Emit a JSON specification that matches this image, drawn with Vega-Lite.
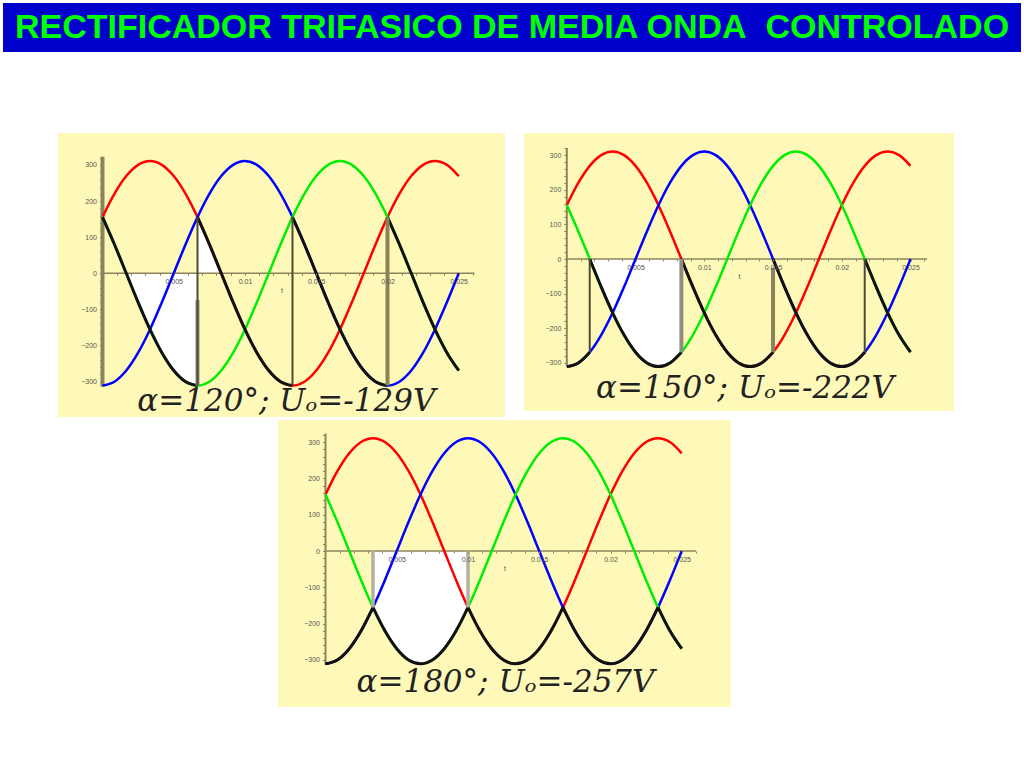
{
"$schema": "https://vega.github.io/schema/vega-lite/v6.json",
"background": "#ffffff",
"padding": {"left": 3, "top": 3, "right": 0, "bottom": 0},
"bounds": "flush",
"spacing": 81,
"config": {"axis": {"labelOverlap": false, "labelFlush": false, "labelBound": false, "grid": false, "domain": false, "tickColor": "#8c845c", "labelFont": "Liberation Sans", "labelFontSize": 7, "labelColor": "#555555", "titleFont": "Liberation Sans", "titleFontSize": 7, "titleFontWeight": "normal", "titleColor": "#555555", "zindex": 1}},
"datasets": {
"phases": [
{"t":0,"ph":"R","v":155.5},{"t":0.000833,"ph":"R","v":219.9},{"t":0.001667,"ph":"R","v":269.3},{"t":0.0025,"ph":"R","v":300.4},{"t":0.003333,"ph":"R","v":311},{"t":0.004167,"ph":"R","v":300.4},{"t":0.005,"ph":"R","v":269.3},{"t":0.005833,"ph":"R","v":219.9},{"t":0.006667,"ph":"R","v":155.5},{"t":0.0075,"ph":"R","v":80.5},{"t":0.008333,"ph":"R","v":0},{"t":0.009167,"ph":"R","v":-80.5},{"t":0.01,"ph":"R","v":-155.5},{"t":0.010833,"ph":"R","v":-219.9},{"t":0.011667,"ph":"R","v":-269.3},{"t":0.0125,"ph":"R","v":-300.4},{"t":0.013333,"ph":"R","v":-311},{"t":0.014167,"ph":"R","v":-300.4},{"t":0.015,"ph":"R","v":-269.3},{"t":0.015833,"ph":"R","v":-219.9},{"t":0.016667,"ph":"R","v":-155.5},{"t":0.0175,"ph":"R","v":-80.5},{"t":0.018333,"ph":"R","v":0},{"t":0.019167,"ph":"R","v":80.5},{"t":0.02,"ph":"R","v":155.5},{"t":0.020833,"ph":"R","v":219.9},{"t":0.021667,"ph":"R","v":269.3},{"t":0.0225,"ph":"R","v":300.4},{"t":0.023333,"ph":"R","v":311},{"t":0.024167,"ph":"R","v":300.4},{"t":0.025,"ph":"R","v":269.3},
{"t":0,"ph":"S","v":-311},{"t":0.000833,"ph":"S","v":-300.4},{"t":0.001667,"ph":"S","v":-269.3},{"t":0.0025,"ph":"S","v":-219.9},{"t":0.003333,"ph":"S","v":-155.5},{"t":0.004167,"ph":"S","v":-80.5},{"t":0.005,"ph":"S","v":0},{"t":0.005833,"ph":"S","v":80.5},{"t":0.006667,"ph":"S","v":155.5},{"t":0.0075,"ph":"S","v":219.9},{"t":0.008333,"ph":"S","v":269.3},{"t":0.009167,"ph":"S","v":300.4},{"t":0.01,"ph":"S","v":311},{"t":0.010833,"ph":"S","v":300.4},{"t":0.011667,"ph":"S","v":269.3},{"t":0.0125,"ph":"S","v":219.9},{"t":0.013333,"ph":"S","v":155.5},{"t":0.014167,"ph":"S","v":80.5},{"t":0.015,"ph":"S","v":0},{"t":0.015833,"ph":"S","v":-80.5},{"t":0.016667,"ph":"S","v":-155.5},{"t":0.0175,"ph":"S","v":-219.9},{"t":0.018333,"ph":"S","v":-269.3},{"t":0.019167,"ph":"S","v":-300.4},{"t":0.02,"ph":"S","v":-311},{"t":0.020833,"ph":"S","v":-300.4},{"t":0.021667,"ph":"S","v":-269.3},{"t":0.0225,"ph":"S","v":-219.9},{"t":0.023333,"ph":"S","v":-155.5},{"t":0.024167,"ph":"S","v":-80.5},{"t":0.025,"ph":"S","v":0},
{"t":0,"ph":"T","v":155.5},{"t":0.000833,"ph":"T","v":80.5},{"t":0.001667,"ph":"T","v":0},{"t":0.0025,"ph":"T","v":-80.5},{"t":0.003333,"ph":"T","v":-155.5},{"t":0.004167,"ph":"T","v":-219.9},{"t":0.005,"ph":"T","v":-269.3},{"t":0.005833,"ph":"T","v":-300.4},{"t":0.006667,"ph":"T","v":-311},{"t":0.0075,"ph":"T","v":-300.4},{"t":0.008333,"ph":"T","v":-269.3},{"t":0.009167,"ph":"T","v":-219.9},{"t":0.01,"ph":"T","v":-155.5},{"t":0.010833,"ph":"T","v":-80.5},{"t":0.011667,"ph":"T","v":0},{"t":0.0125,"ph":"T","v":80.5},{"t":0.013333,"ph":"T","v":155.5},{"t":0.014167,"ph":"T","v":219.9},{"t":0.015,"ph":"T","v":269.3},{"t":0.015833,"ph":"T","v":300.4},{"t":0.016667,"ph":"T","v":311},{"t":0.0175,"ph":"T","v":300.4},{"t":0.018333,"ph":"T","v":269.3},{"t":0.019167,"ph":"T","v":219.9},{"t":0.02,"ph":"T","v":155.5},{"t":0.020833,"ph":"T","v":80.5},{"t":0.021667,"ph":"T","v":0},{"t":0.0225,"ph":"T","v":-80.5},{"t":0.023333,"ph":"T","v":-155.5},{"t":0.024167,"ph":"T","v":-219.9},{"t":0.025,"ph":"T","v":-269.3}
],
"out1": [
{"t":0,"seg":"a","v":155.5},{"t":0.000833,"seg":"a","v":80.5},{"t":0.001667,"seg":"a","v":0},{"t":0.0025,"seg":"a","v":-80.5},{"t":0.003333,"seg":"a","v":-155.5},{"t":0.004167,"seg":"a","v":-219.9},{"t":0.005,"seg":"a","v":-269.3},{"t":0.005833,"seg":"a","v":-300.4},{"t":0.006667,"seg":"a","v":-311},
{"t":0.006667,"seg":"b","v":155.5},{"t":0.0075,"seg":"b","v":80.5},{"t":0.008333,"seg":"b","v":0},{"t":0.009167,"seg":"b","v":-80.5},{"t":0.01,"seg":"b","v":-155.5},{"t":0.010833,"seg":"b","v":-219.9},{"t":0.011667,"seg":"b","v":-269.3},{"t":0.0125,"seg":"b","v":-300.4},{"t":0.013333,"seg":"b","v":-311},
{"t":0.013333,"seg":"c","v":155.5},{"t":0.014167,"seg":"c","v":80.5},{"t":0.015,"seg":"c","v":0},{"t":0.015833,"seg":"c","v":-80.5},{"t":0.016667,"seg":"c","v":-155.5},{"t":0.0175,"seg":"c","v":-219.9},{"t":0.018333,"seg":"c","v":-269.3},{"t":0.019167,"seg":"c","v":-300.4},{"t":0.02,"seg":"c","v":-311},
{"t":0.02,"seg":"d","v":155.5},{"t":0.020833,"seg":"d","v":80.5},{"t":0.021667,"seg":"d","v":0},{"t":0.0225,"seg":"d","v":-80.5},{"t":0.023333,"seg":"d","v":-155.5},{"t":0.024167,"seg":"d","v":-219.9},{"t":0.025,"seg":"d","v":-269.3}
],
"out2": [
{"t":0,"seg":"a","v":-311},{"t":0.000833,"seg":"a","v":-300.4},{"t":0.001667,"seg":"a","v":-269.3},
{"t":0.001667,"seg":"b","v":0},{"t":0.0025,"seg":"b","v":-80.5},{"t":0.003333,"seg":"b","v":-155.5},{"t":0.004167,"seg":"b","v":-219.9},{"t":0.005,"seg":"b","v":-269.3},{"t":0.005833,"seg":"b","v":-300.4},{"t":0.006667,"seg":"b","v":-311},{"t":0.0075,"seg":"b","v":-300.4},{"t":0.008333,"seg":"b","v":-269.3},
{"t":0.008333,"seg":"c","v":0},{"t":0.009167,"seg":"c","v":-80.5},{"t":0.01,"seg":"c","v":-155.5},{"t":0.010833,"seg":"c","v":-219.9},{"t":0.011667,"seg":"c","v":-269.3},{"t":0.0125,"seg":"c","v":-300.4},{"t":0.013333,"seg":"c","v":-311},{"t":0.014167,"seg":"c","v":-300.4},{"t":0.015,"seg":"c","v":-269.3},
{"t":0.015,"seg":"d","v":0},{"t":0.015833,"seg":"d","v":-80.5},{"t":0.016667,"seg":"d","v":-155.5},{"t":0.0175,"seg":"d","v":-219.9},{"t":0.018333,"seg":"d","v":-269.3},{"t":0.019167,"seg":"d","v":-300.4},{"t":0.02,"seg":"d","v":-311},{"t":0.020833,"seg":"d","v":-300.4},{"t":0.021667,"seg":"d","v":-269.3},
{"t":0.021667,"seg":"e","v":0},{"t":0.0225,"seg":"e","v":-80.5},{"t":0.023333,"seg":"e","v":-155.5},{"t":0.024167,"seg":"e","v":-219.9},{"t":0.025,"seg":"e","v":-269.3}
],
"out3": [
{"t":0,"seg":"a","v":-311},{"t":0.000833,"seg":"a","v":-300.4},{"t":0.001667,"seg":"a","v":-269.3},{"t":0.0025,"seg":"a","v":-219.9},{"t":0.003333,"seg":"a","v":-155.5},
{"t":0.003333,"seg":"b","v":-155.5},{"t":0.004167,"seg":"b","v":-219.9},{"t":0.005,"seg":"b","v":-269.3},{"t":0.005833,"seg":"b","v":-300.4},{"t":0.006667,"seg":"b","v":-311},{"t":0.0075,"seg":"b","v":-300.4},{"t":0.008333,"seg":"b","v":-269.3},{"t":0.009167,"seg":"b","v":-219.9},{"t":0.01,"seg":"b","v":-155.5},
{"t":0.01,"seg":"c","v":-155.5},{"t":0.010833,"seg":"c","v":-219.9},{"t":0.011667,"seg":"c","v":-269.3},{"t":0.0125,"seg":"c","v":-300.4},{"t":0.013333,"seg":"c","v":-311},{"t":0.014167,"seg":"c","v":-300.4},{"t":0.015,"seg":"c","v":-269.3},{"t":0.015833,"seg":"c","v":-219.9},{"t":0.016667,"seg":"c","v":-155.5},
{"t":0.016667,"seg":"d","v":-155.5},{"t":0.0175,"seg":"d","v":-219.9},{"t":0.018333,"seg":"d","v":-269.3},{"t":0.019167,"seg":"d","v":-300.4},{"t":0.02,"seg":"d","v":-311},{"t":0.020833,"seg":"d","v":-300.4},{"t":0.021667,"seg":"d","v":-269.3},{"t":0.0225,"seg":"d","v":-219.9},{"t":0.023333,"seg":"d","v":-155.5},
{"t":0.023333,"seg":"e","v":-155.5},{"t":0.024167,"seg":"e","v":-219.9},{"t":0.025,"seg":"e","v":-269.3}
],
"fill1": [
{"t":0.001667,"seg":"a","v":0},{"t":0.0025,"seg":"a","v":-80.5},{"t":0.003333,"seg":"a","v":-155.5},{"t":0.004167,"seg":"a","v":-219.9},{"t":0.005,"seg":"a","v":-269.3},{"t":0.005833,"seg":"a","v":-300.4},{"t":0.006667,"seg":"a","v":-311},
{"t":0.006667,"seg":"b","v":155.5},{"t":0.0075,"seg":"b","v":80.5},{"t":0.008333,"seg":"b","v":0}
],
"fill2": [
{"t":0.001667,"seg":"a","v":0},{"t":0.0025,"seg":"a","v":-80.5},{"t":0.003333,"seg":"a","v":-155.5},{"t":0.004167,"seg":"a","v":-219.9},{"t":0.005,"seg":"a","v":-269.3},{"t":0.005833,"seg":"a","v":-300.4},{"t":0.006667,"seg":"a","v":-311},{"t":0.0075,"seg":"a","v":-300.4},{"t":0.008333,"seg":"a","v":-269.3}
],
"fill3": [
{"t":0.003333,"seg":"a","v":-155.5},{"t":0.004167,"seg":"a","v":-219.9},{"t":0.005,"seg":"a","v":-269.3},{"t":0.005833,"seg":"a","v":-300.4},{"t":0.006667,"seg":"a","v":-311},{"t":0.0075,"seg":"a","v":-300.4},{"t":0.008333,"seg":"a","v":-269.3},{"t":0.009167,"seg":"a","v":-219.9},{"t":0.01,"seg":"a","v":-155.5}
],
"rules1": [
{"t":0.006667,"v1":-311,"v2":-74,"kind":"gray"},
{"t":0.006667,"v1":-311,"v2":155.5,"kind":"dark"},
{"t":0.013333,"v1":-311,"v2":155.5,"kind":"dark"},
{"t":0.02,"v1":-311,"v2":155.5,"kind":"olive"}
],
"rules2": [
{"t":0.001667,"v1":-269.3,"v2":0,"kind":"dark"},
{"t":0.008333,"v1":-269.3,"v2":0,"kind":"gray"},
{"t":0.015,"v1":-269.3,"v2":-25,"kind":"olive"},
{"t":0.021667,"v1":-269.3,"v2":0,"kind":"dark"}
],
"rules3": [
{"t":0.003333,"v1":-155.5,"v2":0,"kind":"light"},
{"t":0.01,"v1":-155.5,"v2":0,"kind":"light"}
]
},
"vconcat": [
{
"width": 1018, "height": 49,
"view": {"fill": "#0000cc", "stroke": null},
"data": {"values": [{"label": "RECTIFICADOR TRIFASICO DE MEDIA ONDA\u00a0 CONTROLADO"}]},
"mark": {"type": "text", "font": "Liberation Sans", "fontWeight": "bold", "fontSize": 34, "color": "#00ff00", "baseline": "middle", "align": "center"},
"encoding": {"text": {"field": "label", "type": "nominal"}}
},
{
"vconcat": [
{
"hconcat": [
{"width": 55, "height": 10, "view": {"stroke": null}, "data": {"values": [{"s": 0}]}, "mark": {"type": "point", "opacity": 0}, "encoding": {}},
{
"width": 447, "height": 284,
"view": {"fill": "#fff9b9", "stroke": null},
"layer": [
{"data": {"name": "fill1"}, "mark": {"type": "area", "interpolate": "monotone", "color": "#ffffff"},
 "encoding": {
  "x": {"field": "t", "type": "quantitative", "scale": {"domain": [-0.003123, 0.028246], "nice": false, "zero": false},
        "axis": {"title": "t", "zindex": 1, "offset": -143.7, "tickCount": 500, "values": [0,0.001,0.002,0.003,0.004,0.005,0.006,0.007,0.008,0.009,0.01,0.011,0.012,0.013,0.014,0.015,0.016,0.017,0.018,0.019,0.02,0.021,0.022,0.023,0.024,0.025,0.026], "format": ".3~f", "labelExpr": "indexof(['0.005','0.01','0.015','0.02','0.025'], datum.label) >= 0 ? datum.label : ''", "tickSize": 2, "labelPadding": 2, "labelOverlap": false, "titlePadding": 2}},
  "y": {"field": "v", "type": "quantitative", "stack": null, "scale": {"domain": [-398.1, 388.6], "nice": false, "zero": false},
        "axis": {"title": null, "zindex": 1, "offset": -44.5, "tickCount": 500, "values": [-300,-280,-260,-240,-220,-200,-180,-160,-140,-120,-100,-80,-60,-40,-20,0,20,40,60,80,100,120,140,160,180,200,220,240,260,280,300,320], "labelExpr": "datum.value % 100 === 0 ? datum.label : ''", "tickSize": 3, "labelPadding": 3, "labelOverlap": false}},
  "y2": {"datum": 0},
  "detail": {"field": "seg", "type": "nominal"}
 }},
{"data": {"values": [{"s": 0}]}, "mark": {"type": "rule", "color": "#8c845c", "strokeWidth": 4},
 "encoding": {"x": {"datum": 0, "type": "quantitative", "scale": {"domain": [-0.003123, 0.028246], "nice": false, "zero": false}},
  "y": {"datum": -314, "type": "quantitative", "scale": {"domain": [-398.1, 388.6], "nice": false, "zero": false}}, "y2": {"datum": 323}}},
{"data": {"values": [{"s": 0}]}, "mark": {"type": "rule", "color": "#8c845c", "strokeWidth": 1.5},
 "encoding": {"y": {"datum": 0, "type": "quantitative", "scale": {"domain": [-398.1, 388.6], "nice": false, "zero": false}},
  "x": {"datum": 0, "type": "quantitative", "scale": {"domain": [-0.003123, 0.028246], "nice": false, "zero": false}}, "x2": {"datum": 0.0261}}},
{"data": {"name": "phases"}, "mark": {"type": "line", "interpolate": "monotone", "strokeWidth": 2.5},
 "encoding": {"x": {"field": "t", "type": "quantitative", "scale": {"domain": [-0.003123, 0.028246], "nice": false, "zero": false}},
  "y": {"field": "v", "type": "quantitative", "scale": {"domain": [-398.1, 388.6], "nice": false, "zero": false}},
  "color": {"field": "ph", "type": "nominal", "scale": {"domain": ["R","S","T"], "range": ["#ff0000","#0000ff","#00ee00"]}, "legend": null}}},
{"data": {"name": "out1"}, "mark": {"type": "line", "interpolate": "monotone", "strokeWidth": 3, "color": "#111111"},
 "encoding": {"x": {"field": "t", "type": "quantitative", "scale": {"domain": [-0.003123, 0.028246], "nice": false, "zero": false}},
  "y": {"field": "v", "type": "quantitative", "scale": {"domain": [-398.1, 388.6], "nice": false, "zero": false}},
  "detail": {"field": "seg", "type": "nominal"}}},
{"data": {"name": "rules1"}, "mark": {"type": "rule"},
 "encoding": {"x": {"field": "t", "type": "quantitative", "scale": {"domain": [-0.003123, 0.028246], "nice": false, "zero": false}},
  "y": {"field": "v1", "type": "quantitative", "scale": {"domain": [-398.1, 388.6], "nice": false, "zero": false}},
  "y2": {"field": "v2"},
  "stroke": {"field": "kind", "type": "nominal", "scale": {"domain": ["dark","gray","olive","light"], "range": ["#4f4a35","#8f8d80","#8c8258","#b3b1a0"]}, "legend": null},
  "strokeWidth": {"field": "kind", "type": "ordinal", "scale": {"type": "ordinal", "domain": ["dark","gray","olive","light"], "range": [2, 4, 4, 3.5]}, "legend": null}}},
{"data": {"values": [{"label": "α=120°; Uₒ=-129V"}]}, "mark": {"type": "text", "font": "DejaVu Serif", "fontStyle": "italic", "fontSize": 31, "color": "#222222", "baseline": "middle", "align": "center"},
 "encoding": {"x": {"datum": 0.0129, "type": "quantitative", "scale": {"domain": [-0.003123, 0.028246], "nice": false, "zero": false}},
  "y": {"datum": -356, "type": "quantitative", "scale": {"domain": [-398.1, 388.6], "nice": false, "zero": false}},
  "text": {"field": "label", "type": "nominal"}}}
]
},
{"width": 19, "height": 10, "view": {"stroke": null}, "data": {"values": [{"s": 0}]}, "mark": {"type": "point", "opacity": 0}, "encoding": {}},
{
"width": 430, "height": 278,
"view": {"fill": "#fff9b9", "stroke": null},
"layer": [
{"data": {"name": "fill2"}, "mark": {"type": "area", "interpolate": "monotone", "color": "#ffffff"},
 "encoding": {
  "x": {"field": "t", "type": "quantitative", "scale": {"domain": [-0.003113, 0.02816], "nice": false, "zero": false},
        "axis": {"title": "t", "zindex": 1, "offset": -152, "tickCount": 500, "values": [0,0.001,0.002,0.003,0.004,0.005,0.006,0.007,0.008,0.009,0.01,0.011,0.012,0.013,0.014,0.015,0.016,0.017,0.018,0.019,0.02,0.021,0.022,0.023,0.024,0.025,0.026], "format": ".3~f", "labelExpr": "indexof(['0.005','0.01','0.015','0.02','0.025'], datum.label) >= 0 ? datum.label : ''", "tickSize": 2, "labelPadding": 2, "labelOverlap": false, "titlePadding": 2}},
  "y": {"field": "v", "type": "quantitative", "stack": null, "scale": {"domain": [-439.3, 364.2], "nice": false, "zero": false},
        "axis": {"title": null, "zindex": 1, "offset": -42.8, "tickCount": 500, "values": [-300,-280,-260,-240,-220,-200,-180,-160,-140,-120,-100,-80,-60,-40,-20,0,20,40,60,80,100,120,140,160,180,200,220,240,260,280,300,320], "labelExpr": "datum.value % 100 === 0 ? datum.label : ''", "tickSize": 3, "labelPadding": 3, "labelOverlap": false}},
  "y2": {"datum": 0},
  "detail": {"field": "seg", "type": "nominal"}
 }},
{"data": {"values": [{"s": 0}]}, "mark": {"type": "rule", "color": "#8c845c", "strokeWidth": 2},
 "encoding": {"x": {"datum": 0, "type": "quantitative", "scale": {"domain": [-0.003113, 0.02816], "nice": false, "zero": false}},
  "y": {"datum": -310, "type": "quantitative", "scale": {"domain": [-439.3, 364.2], "nice": false, "zero": false}}, "y2": {"datum": 321}}},
{"data": {"values": [{"s": 0}]}, "mark": {"type": "rule", "color": "#8c845c", "strokeWidth": 1.5},
 "encoding": {"y": {"datum": 0, "type": "quantitative", "scale": {"domain": [-439.3, 364.2], "nice": false, "zero": false}},
  "x": {"datum": 0, "type": "quantitative", "scale": {"domain": [-0.003113, 0.02816], "nice": false, "zero": false}}, "x2": {"datum": 0.0262}}},
{"data": {"name": "phases"}, "mark": {"type": "line", "interpolate": "monotone", "strokeWidth": 2.5},
 "encoding": {"x": {"field": "t", "type": "quantitative", "scale": {"domain": [-0.003113, 0.02816], "nice": false, "zero": false}},
  "y": {"field": "v", "type": "quantitative", "scale": {"domain": [-439.3, 364.2], "nice": false, "zero": false}},
  "color": {"field": "ph", "type": "nominal", "scale": {"domain": ["R","S","T"], "range": ["#ff0000","#0000ff","#00ee00"]}, "legend": null}}},
{"data": {"name": "out2"}, "mark": {"type": "line", "interpolate": "monotone", "strokeWidth": 3, "color": "#111111"},
 "encoding": {"x": {"field": "t", "type": "quantitative", "scale": {"domain": [-0.003113, 0.02816], "nice": false, "zero": false}},
  "y": {"field": "v", "type": "quantitative", "scale": {"domain": [-439.3, 364.2], "nice": false, "zero": false}},
  "detail": {"field": "seg", "type": "nominal"}}},
{"data": {"name": "rules2"}, "mark": {"type": "rule"},
 "encoding": {"x": {"field": "t", "type": "quantitative", "scale": {"domain": [-0.003113, 0.02816], "nice": false, "zero": false}},
  "y": {"field": "v1", "type": "quantitative", "scale": {"domain": [-439.3, 364.2], "nice": false, "zero": false}},
  "y2": {"field": "v2"},
  "stroke": {"field": "kind", "type": "nominal", "scale": {"domain": ["dark","gray","olive","light"], "range": ["#4f4a35","#8f8d80","#8c8258","#b3b1a0"]}, "legend": null},
  "strokeWidth": {"field": "kind", "type": "ordinal", "scale": {"type": "ordinal", "domain": ["dark","gray","olive","light"], "range": [2, 4, 4, 3.5]}, "legend": null}}},
{"data": {"values": [{"label": "α=150°; Uₒ=-222V"}]}, "mark": {"type": "text", "font": "DejaVu Serif", "fontStyle": "italic", "fontSize": 31, "color": "#222222", "baseline": "middle", "align": "center"},
 "encoding": {"x": {"datum": 0.01296, "type": "quantitative", "scale": {"domain": [-0.003113, 0.02816], "nice": false, "zero": false}},
  "y": {"datum": -377, "type": "quantitative", "scale": {"domain": [-439.3, 364.2], "nice": false, "zero": false}},
  "text": {"field": "label", "type": "nominal"}}}
]
}
],
"spacing": 0,
"bounds": "flush"
},
{
"hconcat": [
{"width": 275, "height": 10, "view": {"stroke": null}, "data": {"values": [{"s": 0}]}, "mark": {"type": "point", "opacity": 0}, "encoding": {}},
{
"width": 453, "height": 287,
"view": {"fill": "#fff9b9", "stroke": null},
"layer": [
{"data": {"name": "fill3"}, "mark": {"type": "area", "interpolate": "monotone", "color": "#ffffff"},
 "encoding": {
  "x": {"field": "t", "type": "quantitative", "scale": {"domain": [-0.003333, 0.028456], "nice": false, "zero": false},
        "axis": {"title": "t", "zindex": 1, "offset": -156, "tickCount": 500, "values": [0,0.001,0.002,0.003,0.004,0.005,0.006,0.007,0.008,0.009,0.01,0.011,0.012,0.013,0.014,0.015,0.016,0.017,0.018,0.019,0.02,0.021,0.022,0.023,0.024,0.025,0.026], "format": ".3~f", "labelExpr": "indexof(['0.005','0.01','0.015','0.02','0.025'], datum.label) >= 0 ? datum.label : ''", "tickSize": 2, "labelPadding": 2, "labelOverlap": false, "titlePadding": 2}},
  "y": {"field": "v", "type": "quantitative", "stack": null, "scale": {"domain": [-430, 361.1], "nice": false, "zero": false},
        "axis": {"title": null, "zindex": 1, "offset": -47.5, "tickCount": 500, "values": [-300,-280,-260,-240,-220,-200,-180,-160,-140,-120,-100,-80,-60,-40,-20,0,20,40,60,80,100,120,140,160,180,200,220,240,260,280,300,320], "labelExpr": "datum.value % 100 === 0 ? datum.label : ''", "tickSize": 3, "labelPadding": 3, "labelOverlap": false}},
  "y2": {"datum": 0},
  "detail": {"field": "seg", "type": "nominal"}
 }},
{"data": {"values": [{"s": 0}]}, "mark": {"type": "rule", "color": "#8c845c", "strokeWidth": 2},
 "encoding": {"x": {"datum": 0, "type": "quantitative", "scale": {"domain": [-0.003333, 0.028456], "nice": false, "zero": false}},
  "y": {"datum": -314, "type": "quantitative", "scale": {"domain": [-430, 361.1], "nice": false, "zero": false}}, "y2": {"datum": 324}}},
{"data": {"values": [{"s": 0}]}, "mark": {"type": "rule", "color": "#8c845c", "strokeWidth": 1.5},
 "encoding": {"y": {"datum": 0, "type": "quantitative", "scale": {"domain": [-430, 361.1], "nice": false, "zero": false}},
  "x": {"datum": 0, "type": "quantitative", "scale": {"domain": [-0.003333, 0.028456], "nice": false, "zero": false}}, "x2": {"datum": 0.026}}},
{"data": {"name": "phases"}, "mark": {"type": "line", "interpolate": "monotone", "strokeWidth": 2.5},
 "encoding": {"x": {"field": "t", "type": "quantitative", "scale": {"domain": [-0.003333, 0.028456], "nice": false, "zero": false}},
  "y": {"field": "v", "type": "quantitative", "scale": {"domain": [-430, 361.1], "nice": false, "zero": false}},
  "color": {"field": "ph", "type": "nominal", "scale": {"domain": ["R","S","T"], "range": ["#ff0000","#0000ff","#00ee00"]}, "legend": null}}},
{"data": {"name": "out3"}, "mark": {"type": "line", "interpolate": "monotone", "strokeWidth": 3, "color": "#111111"},
 "encoding": {"x": {"field": "t", "type": "quantitative", "scale": {"domain": [-0.003333, 0.028456], "nice": false, "zero": false}},
  "y": {"field": "v", "type": "quantitative", "scale": {"domain": [-430, 361.1], "nice": false, "zero": false}},
  "detail": {"field": "seg", "type": "nominal"}}},
{"data": {"name": "rules3"}, "mark": {"type": "rule"},
 "encoding": {"x": {"field": "t", "type": "quantitative", "scale": {"domain": [-0.003333, 0.028456], "nice": false, "zero": false}},
  "y": {"field": "v1", "type": "quantitative", "scale": {"domain": [-430, 361.1], "nice": false, "zero": false}},
  "y2": {"field": "v2"},
  "stroke": {"field": "kind", "type": "nominal", "scale": {"domain": ["dark","gray","olive","light"], "range": ["#4f4a35","#8f8d80","#8c8258","#b3b1a0"]}, "legend": null},
  "strokeWidth": {"field": "kind", "type": "ordinal", "scale": {"type": "ordinal", "domain": ["dark","gray","olive","light"], "range": [2, 4, 4, 3.5]}, "legend": null}}},
{"data": {"values": [{"label": "α=180°; Uₒ=-257V"}]}, "mark": {"type": "text", "font": "DejaVu Serif", "fontStyle": "italic", "fontSize": 31, "color": "#222222", "baseline": "middle", "align": "center"},
 "encoding": {"x": {"datum": 0.01263, "type": "quantitative", "scale": {"domain": [-0.003333, 0.028456], "nice": false, "zero": false}},
  "y": {"datum": -364, "type": "quantitative", "scale": {"domain": [-430, 361.1], "nice": false, "zero": false}},
  "text": {"field": "label", "type": "nominal"}}}
]
}
],
"spacing": 0,
"bounds": "flush"
}
],
"spacing": 3,
"bounds": "full"
}
]
}
